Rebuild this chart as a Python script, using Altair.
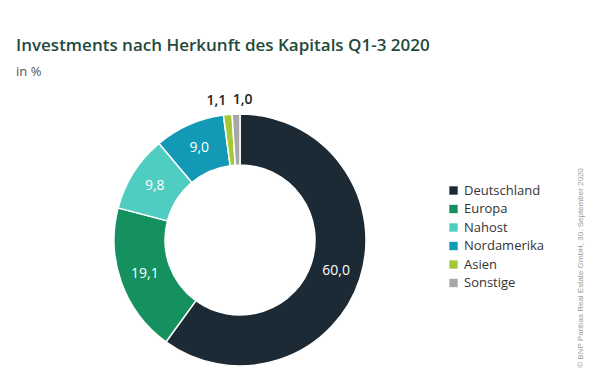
import altair as alt
import pandas as pd

categories = ["Deutschland", "Europa", "Nahost", "Nordamerika", "Asien", "Sonstige"]
values = [60.0, 19.1, 9.8, 9.0, 1.1, 1.0]
labels = ["60,0", "19,1", "9,8", "9,0", "1,1", "1,0"]
colors = ["#1c2a36", "#14915f", "#4ecdc0", "#1199b5", "#a5c837", "#a7a7a7"]
inside = [True, True, True, True, False, False]

df = pd.DataFrame({
    "Herkunft": categories,
    "Wert": values,
    "Label": labels,
    "order": list(range(len(categories))),
    "inside": inside,
})

FONT = "Open Sans"
CX, CY = 232, 162

base = alt.Chart(df).encode(
    theta=alt.Theta("Wert:Q", stack=True),
    order=alt.Order("order:Q"),
)

arcs = base.mark_arc(innerRadius=75, outerRadius=126, stroke="white", strokeWidth=1.5).encode(
    x=alt.value(CX), y=alt.value(CY),
    color=alt.Color(
        "Herkunft:N",
        scale=alt.Scale(domain=categories, range=colors),
        sort=categories,
        legend=alt.Legend(
            title=None, orient="none", legendX=439, legendY=106,
            symbolType="square", symbolSize=70, labelFont=FONT, labelFontSize=13,
            labelColor="#333333", rowPadding=4.5, symbolStrokeWidth=0,
        ),
    ),
)

inner_text = base.mark_text(radius=101, font=FONT, fontSize=14, color="white").transform_calculate(
    t="datum.inside ? datum.Label : ''"
).encode(x=alt.value(CX), y=alt.value(CY), text="t:N")

out_asien = base.mark_text(radius=140, font=FONT, fontSize=14, color="#222222", fontWeight=600, dx=-10).transform_calculate(
    t="datum.Herkunft == 'Asien' ? datum.Label : ''"
).encode(x=alt.value(CX), y=alt.value(CY), text="t:N")

out_sonst = base.mark_text(radius=140, font=FONT, fontSize=14, color="#222222", fontWeight=600, dx=7).transform_calculate(
    t="datum.Herkunft == 'Sonstige' ? datum.Label : ''"
).encode(x=alt.value(CX), y=alt.value(CY), text="t:N")

copyright_df = pd.DataFrame({"t": ["© BNP Paribas Real Estate GmbH, 30. September 2020"]})
copyright = alt.Chart(copyright_df).mark_text(
    angle=270, font="Liberation Sans", fontSize=8, color="#9a9a9a", baseline="middle", align="center"
).encode(x=alt.value(573), y=alt.value(190), text="t:N")

chart = alt.layer(arcs, inner_text, out_asien, out_sonst, copyright).properties(
    width=584, height=298,
    autosize=alt.AutoSizeParams(type="none"),
    padding={"top": 70, "left": 0, "right": 0, "bottom": 0},
    title=alt.TitleParams(
        text="Investments nach Herkunft des Kapitals Q1-3 2020",
        subtitle="in %",
        anchor="start", frame="group", offset=-2, dx=8,
        font=FONT, fontSize=17, fontWeight=600, color="#1f4a3c",
        subtitleFont=FONT, subtitleFontSize=13, subtitleColor="#555555", subtitlePadding=11,
    ),
).configure_view(stroke=None)

chart.save("out.html", embed_options={"renderer": "svg", "actions": False})
